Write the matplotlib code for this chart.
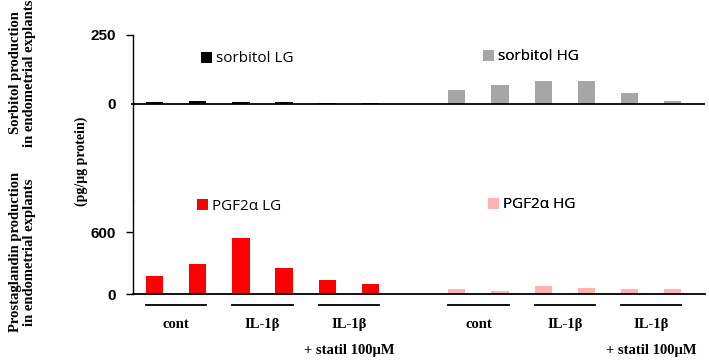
import numpy as np
import matplotlib
matplotlib.use('Agg')
import matplotlib.pyplot as plt

# values
groups = ['cont', 'IL-1β', 'IL-1β']
statil_text = '+ statil 100μM'
sorbitol_lg = [6, 10, 6, 6, 4, 3]
sorbitol_hg = [51, 70, 83, 83, 40, 11]
pgf_lg = [170, 293, 542, 255, 132, 100]
pgf_hg = [45, 29, 74, 58, 52, 52]
top_ticks = [0, 250]
bottom_ticks = [0, 600]

lg_x = np.arange(6)
hg_x = np.arange(7, 13)
width = 0.4

fig = plt.figure(figsize=(7.09, 3.6), dpi=100)
ax_top = fig.add_axes([0.1876, 0.4444, 0.8068, 0.4584])
ax_bot = fig.add_axes([0.1876, 0.1833, 0.8068, 0.2611])

# top panel: sorbitol
b1 = ax_top.bar(lg_x, sorbitol_lg, width, color='black')
b2 = ax_top.bar(hg_x, sorbitol_hg, width, color='#a6a6a6')
ax_top.axhline(0, color='black', lw=1.3)
ax_top.set_ylim(-348, 250)
# 250 gets a full tick, 0 only a stub (the baseline crosses the axis)
ax_top.set_yticks(top_ticks[1:], labels=[str(top_ticks[1])])
ax_top.set_yticks(top_ticks[:1], labels=[str(top_ticks[0])], minor=True)

# bottom panel: PGF2a
b3 = ax_bot.bar(lg_x, pgf_lg, width, color='#ff0000')
b4 = ax_bot.bar(hg_x, pgf_hg, width, color='#ffb3b3')
ax_bot.set_ylim(0, 910)
ax_bot.set_yticks(bottom_ticks)

for ax in (ax_top, ax_bot):
    ax.set_xlim(-0.5, 12.75)
    ax.set_xticks([])
    ax.spines['top'].set_visible(False)
    ax.spines['right'].set_visible(False)
    ax.spines['left'].set_linewidth(1.0)
    ax.tick_params(axis='y', which='major', length=5, width=1.0, pad=7)
    for lab in ax.get_yticklabels(which='both'):
        lab.set_fontfamily('Liberation Sans')
        lab.set_fontweight('bold')
        lab.set_fontsize(11)
    ax.patch.set_alpha(0)
ax_top.tick_params(axis='y', which='minor', length=1.5, width=1.3, pad=10.5)
ax_top.spines['bottom'].set_visible(False)
ax_bot.spines['bottom'].set_linewidth(1.3)

# legends
leg_font = {'family': 'Open Sans', 'size': 11}
def put_legend(ax, handle, text, x, y):
    leg = ax.legend([handle], [text], loc='center left',
                    bbox_to_anchor=(x / 709, 1 - y / 360),
                    bbox_transform=fig.transFigure, frameon=False,
                    borderpad=0, borderaxespad=0, handlelength=0.7,
                    handleheight=0.7, handletextpad=0.3, prop=leg_font)
    ax.add_artist(leg)

put_legend(ax_top, b1, 'sorbitol LG', 201, 59)
put_legend(ax_top, b2, 'sorbitol HG', 483, 57)
put_legend(ax_bot, b3, 'PGF2α LG', 197, 206)
put_legend(ax_bot, b4, 'PGF2α HG', 488, 205)

# group underlines and labels
serif = {'family': 'Liberation Serif', 'weight': 'bold', 'size': 10.5}
trans = ax_bot.get_xaxis_transform()
starts = [0, 2, 4, 7, 9, 11]
for i, s in enumerate(starts):
    ax_bot.plot([s - width / 2, s + 1 + width / 2], [-0.12, -0.12],
                color='black', lw=1.3, transform=trans, clip_on=False)
    ax_bot.text(s + 0.5, -0.32, groups[i % 3], ha='center', va='center',
                transform=trans, fontdict=serif)
    if i % 3 == 2:
        ax_bot.text(s + 0.5, -0.6, statil_text, ha='center', va='center',
                    transform=trans, fontdict=serif)

# y axis titles
fig.text(23 / 709, 1 - 73 / 360, 'Sorbitol production\nin endometrial explants',
         rotation=90, ha='center', va='center', multialignment='center',
         linespacing=1.1, fontdict=serif)
fig.text(23 / 709, 1 - 252 / 360, 'Prostaglandin production\nin endometrial explants',
         rotation=90, ha='center', va='center', multialignment='center',
         linespacing=1.1, fontdict=serif)
fig.text(81 / 709, 1 - 161 / 360, '(pg/μg protein)', rotation=90,
         ha='center', va='center', family='Liberation Serif', weight='bold',
         size=10)

fig.savefig('out.png', dpi=100)
